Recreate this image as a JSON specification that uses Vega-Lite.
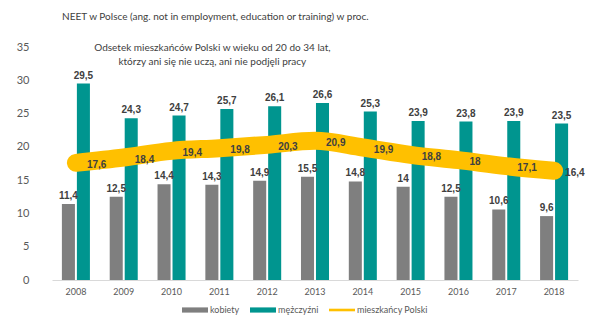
{
  "$schema": "https://vega.github.io/schema/vega-lite/v6.json",
  "width": 526,
  "height": 233,
  "autosize": {"type": "none"},
  "padding": {"left": 52, "top": 47, "right": 29, "bottom": 41},
  "background": "white",
  "config": {
    "view": {"stroke": null},
    "locale": {"number": {"decimal": ",", "thousands": " ", "grouping": [3], "currency": ["", " zł"]}},
    "font": "Lato"
  },
  "title": {
    "text": "NEET w Polsce (ang. not in employment, education or training) w proc.",
    "anchor": "start",
    "frame": "group",
    "dx": 10,
    "offset": 19,
    "font": "Lato",
    "fontSize": 10,
    "fontWeight": "normal",
    "color": "#404040"
  },
  "data": {
    "values": [
      {"year": "2008", "series": "kobiety", "value": 11.4},
      {"year": "2009", "series": "kobiety", "value": 12.5},
      {"year": "2010", "series": "kobiety", "value": 14.4},
      {"year": "2011", "series": "kobiety", "value": 14.3},
      {"year": "2012", "series": "kobiety", "value": 14.9},
      {"year": "2013", "series": "kobiety", "value": 15.5},
      {"year": "2014", "series": "kobiety", "value": 14.8},
      {"year": "2015", "series": "kobiety", "value": 14},
      {"year": "2016", "series": "kobiety", "value": 12.5},
      {"year": "2017", "series": "kobiety", "value": 10.6},
      {"year": "2018", "series": "kobiety", "value": 9.6},
      {"year": "2008", "series": "mężczyźni", "value": 29.5},
      {"year": "2009", "series": "mężczyźni", "value": 24.3},
      {"year": "2010", "series": "mężczyźni", "value": 24.7},
      {"year": "2011", "series": "mężczyźni", "value": 25.7},
      {"year": "2012", "series": "mężczyźni", "value": 26.1},
      {"year": "2013", "series": "mężczyźni", "value": 26.6},
      {"year": "2014", "series": "mężczyźni", "value": 25.3},
      {"year": "2015", "series": "mężczyźni", "value": 23.9},
      {"year": "2016", "series": "mężczyźni", "value": 23.8},
      {"year": "2017", "series": "mężczyźni", "value": 23.9},
      {"year": "2018", "series": "mężczyźni", "value": 23.5},
      {"year": "2008", "series": "mieszkańcy Polski", "value": 17.6},
      {"year": "2009", "series": "mieszkańcy Polski", "value": 18.4},
      {"year": "2010", "series": "mieszkańcy Polski", "value": 19.4},
      {"year": "2011", "series": "mieszkańcy Polski", "value": 19.8},
      {"year": "2012", "series": "mieszkańcy Polski", "value": 20.3},
      {"year": "2013", "series": "mieszkańcy Polski", "value": 20.9},
      {"year": "2014", "series": "mieszkańcy Polski", "value": 19.9},
      {"year": "2015", "series": "mieszkańcy Polski", "value": 18.8},
      {"year": "2016", "series": "mieszkańcy Polski", "value": 18},
      {"year": "2017", "series": "mieszkańcy Polski", "value": 17.1},
      {"year": "2018", "series": "mieszkańcy Polski", "value": 16.4}
    ]
  },
  "encoding": {
    "x": {
      "field": "year",
      "type": "nominal",
      "scale": {"paddingInner": 0.414, "paddingOuter": 0.207},
      "axis": {
        "title": null,
        "labelAngle": 0,
        "ticks": false,
        "domainColor": "#D9D9D9",
        "labelColor": "#595959",
        "labelFont": "Lato",
        "labelFontSize": 9,
        "labelPadding": 7
      }
    },
    "y": {
      "field": "value",
      "type": "quantitative",
      "scale": {"domain": [0, 35], "nice": false},
      "axis": {
        "title": null,
        "values": [0, 5, 10, 15, 20, 25, 30, 35],
        "grid": false,
        "domain": false,
        "ticks": false,
        "labelColor": "#595959",
        "labelFont": "Lato",
        "labelFontSize": 11,
        "labelPadding": 23
      }
    }
  },
  "layer": [
    {
      "transform": [{"filter": "datum.series !== 'mieszkańcy Polski'"}],
      "mark": {"type": "bar"},
      "encoding": {
        "xOffset": {"field": "series", "type": "nominal", "scale": {"paddingInner": 0.13, "paddingOuter": 0}},
        "color": {
          "field": "series",
          "type": "nominal",
          "scale": {
            "domain": ["kobiety", "mężczyźni", "mieszkańcy Polski"],
            "range": ["#7F7F7F", "#00958F", "#FFC000"]
          },
          "legend": {
            "title": null,
            "orient": "none",
            "legendX": 130,
            "legendY": 250,
            "direction": "horizontal",
            "labelFont": "Lato",
            "labelFontSize": 9,
            "labelColor": "#595959",
            "symbolSize": 676,
            "symbolStrokeWidth": 0,
            "labelOffset": 2,
            "columnPadding": 10,
            "encode": {
              "symbols": {
                "update": {
                  "shape": {"signal": "datum.value === 'mieszkańcy Polski' ? 'M-1,-0.1H1V0.1H-1Z' : 'M-1,-0.2H1V0.2H-1Z'"}
                }
              }
            }
          }
        }
      }
    },
    {
      "transform": [{"filter": "datum.series === 'mieszkańcy Polski'"}],
      "mark": {"type": "line", "strokeWidth": 18, "strokeCap": "round", "strokeJoin": "round", "interpolate": "monotone"},
      "encoding": {
        "color": {"field": "series", "type": "nominal"}
      }
    },
    {
      "transform": [{"filter": "datum.series !== 'mieszkańcy Polski'"}],
      "mark": {"type": "text", "baseline": "bottom", "dy": -3, "font": "'Liberation Sans Narrow', 'Liberation Sans'", "fontWeight": "bold", "fontSize": 10, "color": "#404040"},
      "encoding": {
        "xOffset": {"field": "series", "type": "nominal"},
        "text": {"field": "value", "type": "quantitative", "format": ".3~g"}
      }
    },
    {
      "transform": [{"filter": "datum.series === 'mieszkańcy Polski'"}],
      "mark": {"type": "text", "baseline": "middle", "align": "left", "dx": 11, "dy": 2, "font": "'Liberation Sans Narrow', 'Liberation Sans'", "fontWeight": "bold", "fontSize": 10, "color": "#404040"},
      "encoding": {
        "text": {"field": "value", "type": "quantitative", "format": ".3~g"}
      }
    },
    {
      "transform": [{"filter": "datum.series === 'kobiety' && datum.year === '2011'"}],
      "mark": {"type": "text", "align": "center", "baseline": "top", "dx": -7, "dy": -4, "lineHeight": 14, "font": "Lato", "fontSize": 10, "color": "#404040"},
      "encoding": {
        "y": {"datum": 35},
        "text": {"value": ["Odsetek mieszkańców Polski w wieku od 20 do 34 lat,", "którzy ani się nie uczą, ani nie podjęli pracy"]}
      }
    }
  ]
}
